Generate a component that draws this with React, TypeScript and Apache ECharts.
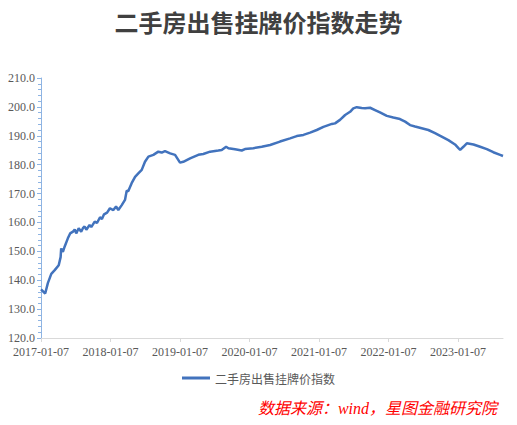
import React, { useEffect, useRef } from "react";
import * as echarts from "echarts";

const TITLE = "二手房出售挂牌价指数走势";
const SERIES_NAME = "二手房出售挂牌价指数";
const SOURCE = "数据来源：wind，星图金融研究院";
const START_DATE = "2017-01-07";
const END_DATE = "2023-08-30";

const dates = [
  "2017-01-07", "2017-01-29", "2017-02-12", "2017-03-02", "2017-03-20", "2017-04-10",
  "2017-04-20", "2017-04-23", "2017-05-02", "2017-05-11", "2017-05-28", "2017-06-09",
  "2017-06-24", "2017-07-03", "2017-07-11", "2017-07-24", "2017-08-06", "2017-08-15",
  "2017-08-24", "2017-09-02", "2017-09-19", "2017-09-28", "2017-10-16", "2017-10-28",
  "2017-11-13", "2017-11-23", "2017-12-04", "2017-12-20", "2018-01-04", "2018-01-22",
  "2018-02-05", "2018-02-17", "2018-03-07", "2018-03-24", "2018-04-02", "2018-04-10",
  "2018-04-28", "2018-05-16", "2018-06-02", "2018-06-20", "2018-07-07", "2018-07-25",
  "2018-08-20", "2018-09-15", "2018-10-03", "2018-10-20", "2018-11-16", "2018-12-12",
  "2019-01-07", "2019-01-24", "2019-03-01", "2019-04-13", "2019-05-09", "2019-06-14",
  "2019-07-27", "2019-08-14", "2019-09-06", "2019-09-18", "2019-10-23", "2019-11-27",
  "2019-12-14", "2020-01-27", "2020-03-11", "2020-04-24", "2020-06-15", "2020-08-07",
  "2020-09-11", "2020-10-16", "2020-11-20", "2020-12-25", "2021-01-29", "2021-02-24",
  "2021-03-14", "2021-03-31", "2021-04-26", "2021-05-23", "2021-06-18", "2021-07-05",
  "2021-07-23", "2021-08-18", "2021-09-05", "2021-10-01", "2021-10-27", "2021-11-22",
  "2021-12-28", "2022-01-31", "2022-03-07", "2022-04-03", "2022-04-29", "2022-05-25",
  "2022-06-29", "2022-08-03", "2022-09-07", "2022-10-12", "2022-11-16", "2022-12-21",
  "2023-01-08", "2023-01-17", "2023-02-03", "2023-02-21", "2023-03-28", "2023-05-02",
  "2023-06-06", "2023-07-10", "2023-08-15", "2023-08-30",
];

const values = [
  136.8, 135.4, 139.0, 142.2, 143.5, 145.2,
  148.0, 151.0, 149.8, 151.6, 154.5, 156.2,
  156.8, 157.6, 156.2, 158.0, 156.8, 158.0,
  158.6, 157.5, 159.1, 158.4, 160.3, 159.8,
  161.8, 161.2, 162.8, 163.4, 164.9, 164.3,
  165.5, 164.3, 166.0, 167.8, 171.0, 170.8,
  173.6, 175.8, 177.0, 178.2, 181.0, 182.8,
  183.4, 184.5, 184.2, 184.7, 183.9, 183.4,
  180.7, 181.0, 182.2, 183.4, 183.7, 184.5,
  184.9, 185.1, 186.2, 185.7, 185.3, 184.9,
  185.4, 185.7, 186.2, 186.8, 188.0, 189.1,
  189.9, 190.3, 191.1, 192.0, 193.1, 193.7,
  194.1, 194.3, 195.5, 197.2, 198.3, 199.5,
  199.9, 199.6, 199.5, 199.7, 198.9, 198.1,
  196.9, 196.3, 195.8, 194.9, 193.7, 193.2,
  192.6, 192.0, 190.9, 189.7, 188.5, 187.0,
  185.7, 185.1, 186.2, 187.4, 187.0, 186.2,
  185.4, 184.3, 183.4, 183.0,
];

const Y_MIN = 120;
const Y_MAX = 210;
const Y_STEP = 10;

const DAY = 86400000;
const toDay = (s: string) => {
  const [y, m, d] = s.split("-").map(Number);
  const [y0, m0, d0] = START_DATE.split("-").map(Number);
  return Math.round((Date.UTC(y, m - 1, d) - Date.UTC(y0, m0 - 1, d0)) / DAY);
};

export default function App() {
  const ref = useRef<HTMLDivElement>(null);
  useEffect(() => {
    if (!ref.current) return;
    const chart = echarts.init(ref.current, null, { renderer: "svg" });
    const data = dates.map((d, i) => [toDay(d), values[i]]);
    const maxDay = toDay(END_DATE);
    const labelFont = "'Liberation Serif', 'Times New Roman', serif";
    chart.setOption({
      animation: false,
      backgroundColor: "#ffffff",
      title: {
        text: TITLE,
        left: "center",
        top: 4,
        textStyle: {
          fontSize: 24,
          fontWeight: "bold",
          color: "#404040",
          fontFamily: "'Noto Sans CJK SC', sans-serif",
        },
      },
      grid: { left: 41, right: 14, top: 78, bottom: 87, containLabel: false },
      legend: {
        data: [SERIES_NAME],
        left: "center",
        top: 367,
        icon: "path://M0,0 L28,0 L28,3 L0,3 Z",
        itemWidth: 28,
        itemHeight: 3,
        itemGap: 4,
        textStyle: {
          color: "#595959",
          fontSize: 12,
          fontFamily: "'Noto Sans CJK SC', sans-serif",
        },
      },
      xAxis: {
        type: "value",
        min: 0,
        max: maxDay,
        interval: 365,
        axisLine: { show: true, lineStyle: { color: "#D9D9D9", width: 1 } },
        axisTick: { show: true, length: 4, lineStyle: { color: "#D9D9D9" } },
        splitLine: { show: false },
        axisLabel: {
          color: "#595959",
          fontSize: 12,
          fontFamily: labelFont,
          margin: 8,
          showMaxLabel: false,
          formatter: (v: number) => {
            if (v % 365 !== 0) return "";
            return `${2017 + Math.round(v / 365)}-01-07`;
          },
        },
      },
      yAxis: {
        type: "value",
        min: Y_MIN,
        max: Y_MAX,
        interval: Y_STEP,
        axisLine: { show: true, lineStyle: { color: "#8EB4E3", width: 1 } },
        axisTick: { show: true, length: 4, inside: false, lineStyle: { color: "#8EB4E3" } },
        minorTick: { show: true, splitNumber: 5, length: 3, lineStyle: { color: "#8EB4E3" } },
        splitLine: { show: false },
        axisLabel: {
          color: "#595959",
          fontSize: 12,
          fontFamily: labelFont,
          margin: 6,
          formatter: (v: number) => v.toFixed(1),
        },
      },
      series: [
        {
          name: SERIES_NAME,
          type: "line",
          data,
          showSymbol: false,
          symbol: "none",
          lineStyle: { color: "#4273BD", width: 2.5 },
          itemStyle: { color: "#4273BD" },
        },
      ],
      graphic: [
        {
          type: "text",
          right: 20,
          top: 400,
          style: {
            text: SOURCE,
            fill: "#FF0000",
            fontSize: 16,
            fontStyle: "italic",
            fontFamily: "'Liberation Serif', 'Noto Sans CJK SC', serif",
          },
        },
      ],
    });
    return () => chart.dispose();
  }, []);
  return (
    <div
      ref={ref}
      style={{ position: "fixed", left: 0, top: 0, width: 517, height: 425 }}
    />
  );
}
